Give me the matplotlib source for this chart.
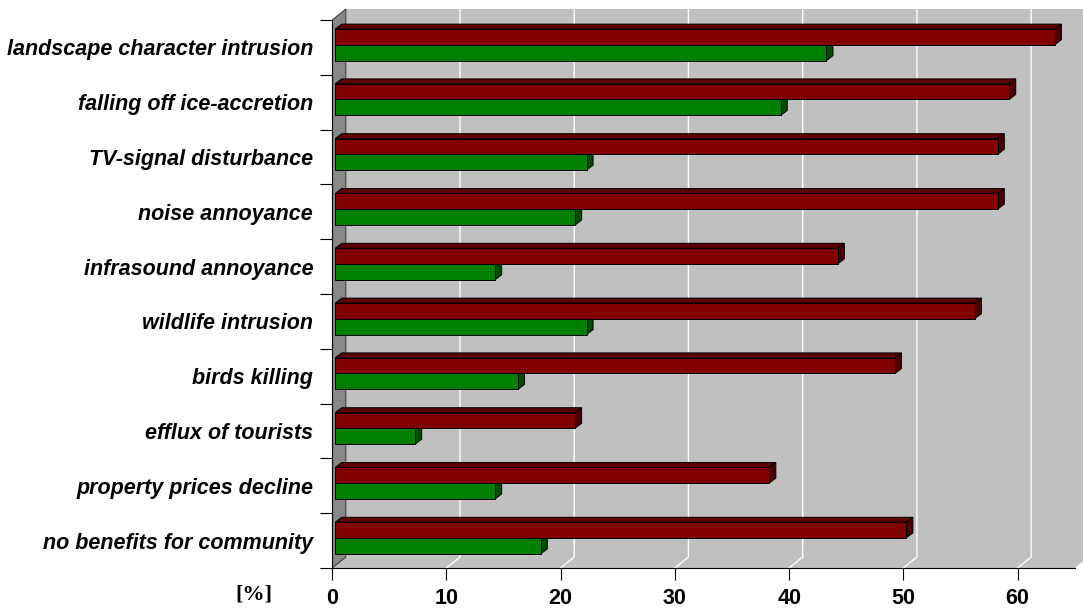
import matplotlib
matplotlib.use('Agg')

import numpy as np
import matplotlib.pyplot as plt
from matplotlib.patches import Polygon

# Kategorien von oben nach unten, Werte in %
kategorien = [
    "landscape character intrusion",
    "falling off ice-accretion",
    "TV-signal disturbance",
    "noise annoyance",
    "infrasound annoyance",
    "wildlife intrusion",
    "birds killing",
    "efflux of tourists",
    "property prices decline",
    "no benefits for community",
]
rot = [63, 59, 58, 58, 44, 56, 49, 21, 38, 50]
gruen = [43, 39, 22, 21, 14, 22, 16, 7, 14, 18]
xticks = [0, 10, 20, 30, 40, 50, 60]
xmax = 65

# 3D-Optik: Tiefe der Wände und der Balken (in Dateneinheiten)
tx, ty = 1.18, 0.2
bx, by = 0.57, 0.09
bs = 0.26

fig = plt.figure(figsize=(10.83, 6.11), dpi=100)
ax = fig.add_axes([0.3068, 0.0704, 0.6932, 0.9296])
ax.set_xlim(0, 65.72)
ax.set_ylim(0, 10.365)
n = len(kategorien)

# Rückwand, Boden, Seitenwand
ax.add_patch(Polygon([(tx, ty), (xmax + tx, ty), (xmax + tx, n + ty), (tx, n + ty)],
                     facecolor='#c0c0c0', edgecolor='none', zorder=0))
ax.add_patch(Polygon([(0, 0), (xmax, 0), (xmax + tx, ty), (tx, ty)],
                     facecolor='#c0c0c0', edgecolor='none', zorder=0))
ax.add_patch(Polygon([(0, 0), (tx, ty), (tx, n + ty), (0, n)],
                     facecolor='#888888', edgecolor='#404040', lw=0.8, zorder=1))

# Gitterlinien
for g in xticks[1:]:
    ax.plot([g, g + tx, g + tx], [0, ty, n + ty], color='white', lw=1.0, zorder=1)

# Balken mit Vorderseite, Oberseite und Stirnseite
def balken(v, y0, y1, vorne, oben, seite, mit_oben):
    x0, x1 = bs, v + bs
    if mit_oben:
        ax.add_patch(Polygon([(x0, y1), (x0 + bx, y1 + by), (x1 + bx, y1 + by), (x1, y1)],
                             facecolor=oben, edgecolor='black', lw=0.7, zorder=3))
    ax.add_patch(Polygon([(x1, y0), (x1 + bx, y0 + by), (x1 + bx, y1 + by), (x1, y1)],
                         facecolor=seite, edgecolor='black', lw=0.7, zorder=3))
    ax.add_patch(Polygon([(x0, y0), (x1, y0), (x1, y1), (x0, y1)],
                         facecolor=vorne, edgecolor='black', lw=0.7, zorder=4))

for i in range(n):
    k = n - 1 - i
    balken(gruen[i], k + 0.26, k + 0.55, '#008000', '#006000', '#004d00', False)
    balken(rot[i], k + 0.55, k + 0.835, '#800000', '#5c0000', '#4a0000', True)

# Achsen
for s in ['top', 'right']:
    ax.spines[s].set_visible(False)
ax.spines['left'].set_bounds(0, n)
ax.spines['bottom'].set_bounds(0, xmax)
ax.spines['left'].set_zorder(5)
ax.spines['bottom'].set_zorder(5)

ax.set_xticks(xticks)
ax.set_xticklabels([str(t) for t in xticks], fontsize=15.5, fontweight='bold',
                   family='Liberation Sans')
ax.tick_params(axis='x', length=8.6, width=0.8, pad=6)

ax.set_yticks(range(n + 1))
ax.set_yticklabels([])
ax.tick_params(axis='y', which='major', length=8.6, width=0.8)
ax.set_yticks([k + 0.5 for k in range(n)], minor=True)
ax.set_yticklabels(kategorien[::-1], minor=True, fontsize=15.5, fontweight='bold',
                   fontstyle='italic', family='Liberation Sans')
ax.tick_params(axis='y', which='minor', length=0, pad=13.7)
ax.patch.set_visible(False)

fig.text(254 / 1083, (611 - 595) / 611, "[%]", ha='center', va='center',
         fontsize=16, fontweight='bold', family='Liberation Serif')

plt.savefig('out.png', dpi=100)
